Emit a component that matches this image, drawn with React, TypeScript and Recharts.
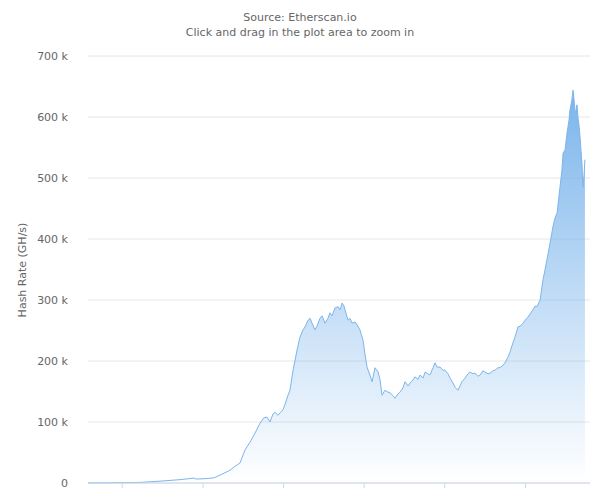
import { Area, AreaChart, CartesianGrid, XAxis, YAxis } from "recharts";

// Ethereum network hash rate, days since 2015-07-30, values in GH/s
const days = [
  0, 54, 145, 240, 326, 417, 480, 489, 530, 571, 616, 643, 661, 689, 711, 734, 757, 779, 797, 811,
  824, 838, 847, 861, 870, 883, 892, 906, 915, 929, 947, 960, 974, 983, 997, 1006, 1015, 1028, 1037, 1051,
  1060, 1074, 1087, 1096, 1105, 1119, 1133, 1142, 1151, 1160, 1164, 1178, 1187, 1196, 1210, 1223, 1232, 1246, 1255, 1264,
  1277, 1287, 1300, 1314, 1323, 1332, 1345, 1359, 1368, 1382, 1391, 1404, 1413, 1427, 1436, 1450, 1459, 1472, 1481, 1495,
  1504, 1518, 1527, 1540, 1549, 1563, 1572, 1581, 1595, 1608, 1617, 1631, 1640, 1653, 1663, 1676, 1685, 1694, 1708, 1721,
  1730, 1744, 1753, 1767, 1776, 1789, 1798, 1812, 1821, 1835, 1844, 1857, 1866, 1880, 1889, 1903, 1912, 1925, 1934, 1948,
  1957, 1971, 1980, 1993, 2002, 2016, 2025, 2034, 2048, 2061, 2070, 2079, 2093, 2106, 2115, 2125, 2138, 2147, 2152, 2161,
  2170, 2179, 2183, 2192, 2197, 2201, 2206, 2210, 2215, 2220, 2224, 2229, 2233, 2238, 2242, 2247, 2251,
];

const hashRate = [
  200, 300, 500, 1000, 3000, 5500, 8000, 6500, 7000, 8500, 16000, 21000, 26000, 33000, 54000, 67000, 82000, 98000, 107000, 108000,
  100000, 113000, 116000, 111000, 115000, 120000, 128000, 144000, 152000, 185000, 218000, 239000, 251000, 256000, 267000, 270000, 262000, 251000, 257000, 270000,
  274000, 262000, 270000, 279000, 274000, 287000, 289000, 284000, 295000, 290000, 284000, 267000, 270000, 262000, 264000, 257000, 251000, 234000, 210000, 190000,
  177000, 166000, 189000, 182000, 169000, 144000, 152000, 149000, 148000, 143000, 139000, 146000, 149000, 156000, 166000, 159000, 164000, 169000, 174000, 170000,
  177000, 172000, 182000, 179000, 177000, 189000, 197000, 190000, 190000, 185000, 185000, 179000, 172000, 164000, 157000, 152000, 159000, 166000, 172000, 179000,
  182000, 179000, 180000, 175000, 177000, 184000, 182000, 179000, 180000, 184000, 185000, 189000, 189000, 193000, 197000, 207000, 215000, 230000, 239000, 256000,
  257000, 262000, 267000, 272000, 277000, 284000, 290000, 289000, 300000, 333000, 349000, 366000, 393000, 420000, 434000, 443000, 485000, 513000, 541000, 546000,
  574000, 595000, 611000, 628000, 644000, 631000, 611000, 608000, 620000, 598000, 587000, 567000, 546000, 521000, 485000, 505000, 530000,
];

const yTicks = [0, 100000, 200000, 300000, 400000, 500000, 600000, 700000];
// Jan 1st of 2016 .. 2021
const xTicks = [155, 521, 886, 1251, 1616, 1982];

const data = days.map((d, i) => ({ day: d, rate: hashRate[i] }));

const FONT = "'DejaVu Sans', sans-serif";
const BLUE = "#7cb5ec";

const fmtK = (v: number) => (v === 0 ? "0" : `${v / 1000} k`);

export default function App() {
  return (
    <div
      style={{
        position: "absolute",
        left: 0,
        top: 0,
        width: 600,
        height: 490,
        background: "#fff",
        fontFamily: FONT,
        overflow: "hidden",
      }}
    >
      <div
        style={{
          position: "absolute",
          top: 10,
          width: 600,
          textAlign: "center",
          fontSize: 11,
          lineHeight: "15px",
          color: "#666",
        }}
      >
        <div>Source: Etherscan.io</div>
        <div>Click and drag in the plot area to zoom in</div>
      </div>
      <div
        style={{
          position: "absolute",
          left: 22,
          top: 270,
          transform: "translate(-50%, -50%) rotate(-90deg)",
          fontSize: 11,
          color: "#666",
          whiteSpace: "nowrap",
        }}
      >
        Hash Rate (GH/s)
      </div>
      <AreaChart
        width={600}
        height={490}
        data={data}
        margin={{ top: 56, right: 10, bottom: 0, left: 10 }}
        style={{ position: "absolute", left: 0, top: 0 }}
      >
        <defs>
          <linearGradient id="hashFill" x1="0" y1="0" x2="0" y2="1">
            <stop offset="0%" stopColor={BLUE} stopOpacity={1} />
            <stop offset="100%" stopColor={BLUE} stopOpacity={0} />
          </linearGradient>
        </defs>
        <CartesianGrid stroke="#e6e6e6" vertical={false} />
        <XAxis
          dataKey="day"
          type="number"
          domain={[0, 2274]}
          ticks={xTicks}
          tickFormatter={() => ""}
          height={7}
          tickSize={5}
          stroke="#ccd6eb"
          tickLine={{ stroke: "#ccd6eb" }}
          axisLine={{ stroke: "#ccd6eb" }}
        />
        <YAxis
          type="number"
          domain={[0, 700000]}
          ticks={yTicks}
          tickFormatter={fmtK}
          width={78}
          axisLine={false}
          tickLine={false}
          tickMargin={14}
          tick={{ fill: "#666", fontSize: 11, fontFamily: FONT }}
        />
        <Area
          type="linear"
          dataKey="rate"
          stroke={BLUE}
          strokeWidth={1}
          fill="url(#hashFill)"
          fillOpacity={1}
          dot={false}
          activeDot={false}
          isAnimationActive={false}
        />
      </AreaChart>
    </div>
  );
}
